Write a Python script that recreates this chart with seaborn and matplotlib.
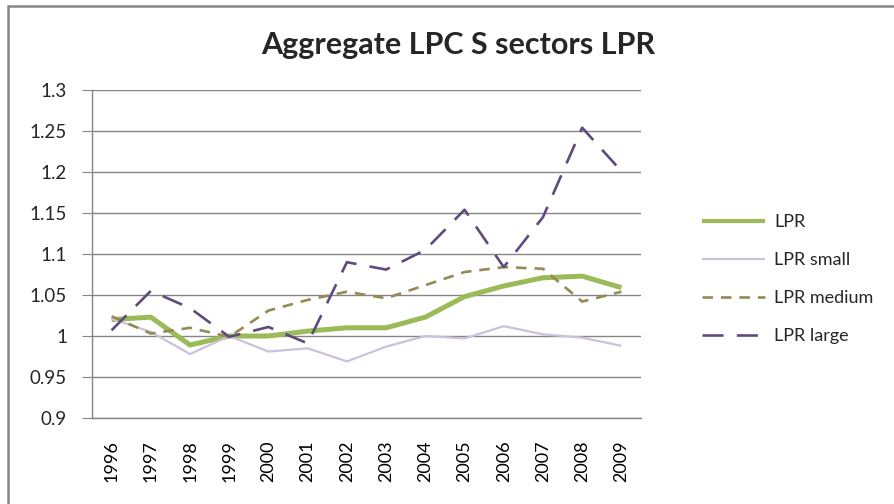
import matplotlib
matplotlib.use('Agg')
import matplotlib.pyplot as plt
import pandas as pd
import seaborn as sns
from matplotlib.patches import Rectangle
from matplotlib.ticker import FuncFormatter, MultipleLocator

# Data
years = [1996, 1997, 1998, 1999, 2000, 2001, 2002, 2003, 2004, 2005, 2006, 2007, 2008, 2009]
lpr = [1.020, 1.023, 0.989, 1.000, 1.000, 1.006, 1.010, 1.010, 1.023, 1.048, 1.061, 1.071, 1.073, 1.059]
lpr_small = [1.021, 1.005, 0.978, 1.000, 0.981, 0.985, 0.969, 0.987, 1.000, 0.997, 1.012, 1.002, 0.998, 0.988]
lpr_medium = [1.024, 1.003, 1.010, 0.999, 1.031, 1.044, 1.054, 1.046, 1.062, 1.078, 1.084, 1.082, 1.042, 1.054]
lpr_large = [1.007, 1.055, 1.034, 0.999, 1.011, 0.991, 1.090, 1.081, 1.105, 1.154, 1.084, 1.145, 1.254, 1.201]

series = ['LPR', 'LPR small', 'LPR medium', 'LPR large']
colors = ['#9BBB59', '#CCC1DA', '#948A54', '#604A7B']
widths = [3.6, 1.6, 1.9, 1.9]
dashes = [(None, None), (None, None), (4, 3), (8, 5)]

df = pd.DataFrame({'year': years, 'LPR': lpr, 'LPR small': lpr_small,
                   'LPR medium': lpr_medium, 'LPR large': lpr_large})
long = df.melt(id_vars='year', var_name='series', value_name='value')

sns.set_style('white')
plt.rcParams['font.family'] = ['Lato', 'DejaVu Sans']

fig = plt.figure(figsize=(8.95, 5.04), dpi=100)
ax = fig.add_axes([92/895, 1-418/504, (641-92)/895, (418-90)/504])

for name, c, w, d in zip(series, colors, widths, dashes):
    sub = long[long['series'] == name]
    sns.lineplot(data=sub, x='year', y='value', ax=ax, color=c, linewidth=w, label=name)
    l = ax.lines[-1]
    if d[0] is not None:
        l.set_dashes(d)
    l.set_solid_capstyle('butt')

ax.set_xlim(1995.5, 2009.5)
ax.set_ylim(0.9, 1.3)
ax.yaxis.set_major_locator(MultipleLocator(0.05))
ax.yaxis.set_major_formatter(FuncFormatter(lambda v, p: '%g' % round(v, 2)))
ax.set_xticks(years)
ax.set_xticklabels([str(y) for y in years], rotation=90)
ax.set_xticks([y - 0.5 for y in years] + [2009.5], minor=True)
ax.tick_params(axis='x', which='major', length=0, labelsize=13, pad=16, colors='black')
ax.tick_params(axis='x', which='minor', length=5, color='#868686', width=1)
ax.tick_params(axis='y', length=7, color='#868686', labelsize=13.5, pad=11,
               direction='out', left=True)
ax.grid(axis='y', color='#868686', linewidth=1)
ax.set_axisbelow(True)
ax.set_xlabel('')
ax.set_ylabel('')
for s in ['top', 'right']:
    ax.spines[s].set_visible(False)
for s in ['left', 'bottom']:
    ax.spines[s].set_color('#868686')
    ax.spines[s].set_linewidth(1)

fig.text(458/895, 1-45/504, 'Aggregate LPC S sectors LPR', ha='center', va='center',
         fontsize=22, fontweight='bold')

leg = ax.legend(loc='center left', bbox_to_anchor=(686/895, 1-279/504),
                bbox_transform=fig.transFigure, frameon=False, fontsize=13,
                handlelength=3.5, labelspacing=1.22, handletextpad=0.5)
leg.get_lines()[0].set_linewidth(3)

# outer chart frame (only left and top edges visible in the crop)
fig.patches.append(Rectangle((8/895, -0.1), 1.2, 1.1 - 6/504, transform=fig.transFigure,
                             fill=False, edgecolor='#868686', linewidth=1.8))

fig.savefig('out.png', dpi=100)
